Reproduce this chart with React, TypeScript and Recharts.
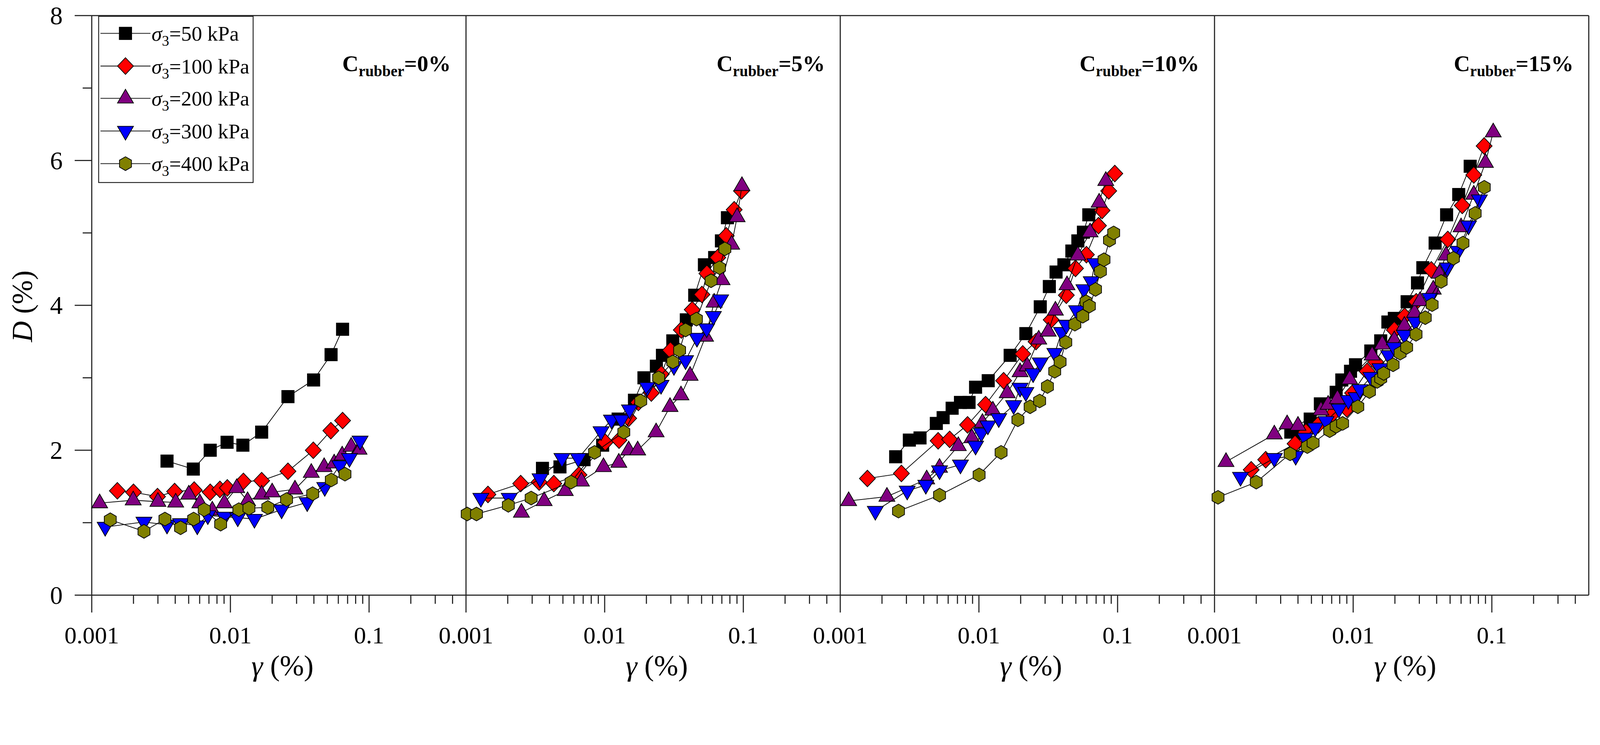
import React from 'react';
import { ScatterChart, Scatter, XAxis, YAxis, ReferenceLine } from 'recharts';

// ---- axes / labels ----
const X_TICKS = [
  0.001, 0.002, 0.003, 0.004, 0.005, 0.006, 0.007, 0.008, 0.009,
  0.01, 0.02, 0.03, 0.04, 0.05, 0.06, 0.07, 0.08, 0.09,
  0.1, 0.2, 0.3, 0.4,
];
const X_MAJOR = [0.001, 0.01, 0.1];
const X_LABELS = ['0.001', '0.01', '0.1'];
const Y_TICKS = [0, 1, 2, 3, 4, 5, 6, 7, 8];
const RUBBER = ['0%', '5%', '10%', '15%'];
const PRESSURES = ['50', '100', '200', '300', '400'];

// ---- data: [gamma (%), D (%)] ----
const C0_S50 = [[0.00349, 1.85], [0.0054, 1.74], [0.00715, 2.0], [0.00946, 2.11], [0.0123, 2.07], [0.0168, 2.25], [0.026, 2.74], [0.0398, 2.97], [0.0532, 3.32], [0.0644, 3.67]];
const C0_S100 = [[0.00153, 1.44], [0.002, 1.42], [0.00298, 1.36], [0.00396, 1.43], [0.00548, 1.45], [0.00715, 1.42], [0.0084, 1.46], [0.0095, 1.48], [0.0124, 1.57], [0.0168, 1.58], [0.026, 1.71], [0.0396, 2.0], [0.053, 2.27], [0.0644, 2.41]];
const C0_S200 = [[0.00114, 1.27], [0.00199, 1.31], [0.003, 1.29], [0.00403, 1.28], [0.00501, 1.39], [0.00602, 1.27], [0.0074, 1.17], [0.00904, 1.27], [0.0111, 1.48], [0.0133, 1.3], [0.0168, 1.39], [0.02, 1.42], [0.0292, 1.46], [0.0383, 1.69], [0.0474, 1.77], [0.056, 1.82], [0.064, 1.93], [0.0743, 2.05], [0.0846, 2.01]];
const C0_S300 = [[0.00125, 0.94], [0.00238, 1.01], [0.00349, 0.97], [0.00437, 0.99], [0.00577, 0.96], [0.00687, 1.1], [0.00905, 1.08], [0.0113, 1.07], [0.0149, 1.05], [0.0234, 1.18], [0.0358, 1.28], [0.0479, 1.49], [0.0615, 1.79], [0.0722, 1.89], [0.0861, 2.13]];
const C0_S400 = [[0.00136, 1.04], [0.00238, 0.88], [0.00337, 1.05], [0.00437, 0.93], [0.00543, 1.05], [0.00647, 1.18], [0.0085, 0.98], [0.0115, 1.18], [0.0136, 1.2], [0.0186, 1.21], [0.0254, 1.32], [0.0392, 1.4], [0.0534, 1.59], [0.067, 1.67]];

const C5_S50 = [[0.00356, 1.75], [0.00476, 1.77], [0.0071, 1.87], [0.00967, 2.07], [0.0125, 2.43], [0.0164, 2.69], [0.0192, 3.0], [0.0236, 3.16], [0.0261, 3.31], [0.031, 3.51], [0.0388, 3.8], [0.0446, 4.14], [0.0524, 4.56], [0.0621, 4.66], [0.0695, 4.89], [0.0768, 5.21]];
const C5_S100 = [[0.00144, 1.39], [0.00248, 1.54], [0.00337, 1.56], [0.0043, 1.54], [0.00653, 1.66], [0.0101, 2.11], [0.0127, 2.14], [0.0149, 2.44], [0.0175, 2.66], [0.0217, 2.79], [0.0256, 3.05], [0.0298, 3.38], [0.0357, 3.66], [0.0428, 3.94], [0.0503, 4.15], [0.0546, 4.44], [0.0654, 4.66], [0.0753, 4.96], [0.0859, 5.32], [0.0969, 5.58]];
const C5_S200 = [[0.00251, 1.14], [0.00366, 1.3], [0.0052, 1.44], [0.0068, 1.57], [0.0098, 1.77], [0.01265, 1.83], [0.0149, 2.0], [0.0173, 2.0], [0.0235, 2.25], [0.0296, 2.6], [0.0355, 2.76], [0.0413, 3.03], [0.0534, 3.57], [0.0616, 4.04], [0.0702, 4.35], [0.0824, 4.84], [0.0902, 5.22], [0.0977, 5.65]];
const C5_S300 = [[0.00128, 1.34], [0.00205, 1.34], [0.00342, 1.61], [0.00492, 1.89], [0.00645, 1.89], [0.00942, 2.26], [0.0112, 2.42], [0.0132, 2.42], [0.0151, 2.56], [0.0203, 2.87], [0.0255, 2.9], [0.0316, 3.16], [0.0383, 3.24], [0.0463, 3.55], [0.0544, 3.68], [0.0608, 3.85], [0.0686, 4.08]];
const C5_S400 = [[0.00102, 1.12], [0.00119, 1.12], [0.00202, 1.24], [0.00295, 1.34], [0.00572, 1.56], [0.00845, 1.97], [0.01374, 2.25], [0.0182, 2.68], [0.0245, 3.0], [0.031, 3.22], [0.0347, 3.38], [0.0383, 3.66], [0.0459, 3.81], [0.0585, 4.34], [0.0673, 4.52], [0.0736, 4.78]];

const C10_S50 = [[0.00251, 1.91], [0.00315, 2.14], [0.00376, 2.17], [0.00493, 2.37], [0.00552, 2.45], [0.00641, 2.58], [0.00736, 2.66], [0.00849, 2.66], [0.00946, 2.87], [0.01167, 2.96], [0.0168, 3.31], [0.0218, 3.61], [0.0277, 3.98], [0.0322, 4.26], [0.036, 4.46], [0.041, 4.56], [0.0468, 4.75], [0.0517, 4.89], [0.0567, 5.01], [0.062, 5.25]];
const C10_S100 = [[0.00157, 1.61], [0.00276, 1.68], [0.00508, 2.13], [0.00615, 2.15], [0.00828, 2.35], [0.01117, 2.63], [0.01507, 2.96], [0.0207, 3.33], [0.0258, 3.5], [0.0332, 3.8], [0.0427, 4.14], [0.0497, 4.51], [0.0596, 4.7], [0.0728, 5.1], [0.0773, 5.31], [0.0863, 5.58], [0.0955, 5.82]];
const C10_S200 = [[0.00115, 1.3], [0.00217, 1.36], [0.0042, 1.6], [0.0052, 1.76], [0.0071, 2.06], [0.0089, 2.17], [0.0106, 2.38], [0.0126, 2.55], [0.016, 2.79], [0.0198, 3.08], [0.0223, 3.16], [0.027, 3.53], [0.0316, 3.64], [0.0356, 3.93], [0.0432, 4.28], [0.0517, 4.69], [0.0633, 5.01], [0.0736, 5.42], [0.0822, 5.72]];
const C10_S300 = [[0.00179, 1.16], [0.00304, 1.44], [0.00414, 1.52], [0.0052, 1.72], [0.00736, 1.8], [0.00946, 2.06], [0.0104, 2.24], [0.0116, 2.34], [0.0139, 2.44], [0.0178, 2.62], [0.0198, 2.86], [0.0218, 2.8], [0.0246, 3.06], [0.0277, 3.21], [0.0353, 3.34], [0.0394, 3.63], [0.0427, 3.73], [0.0507, 3.93], [0.0572, 4.22], [0.0646, 4.33], [0.0686, 4.58]];
const C10_S400 = [[0.00263, 1.16], [0.0052, 1.38], [0.01003, 1.66], [0.01445, 1.97], [0.0191, 2.42], [0.0234, 2.6], [0.0274, 2.68], [0.0312, 2.88], [0.0352, 3.09], [0.0385, 3.22], [0.0423, 3.49], [0.0492, 3.74], [0.0561, 3.85], [0.0592, 4.05], [0.0626, 3.99], [0.0693, 4.22], [0.0752, 4.47], [0.0798, 4.63], [0.0874, 4.9], [0.0937, 5.0]];

const C15_S50 = [[0.00355, 2.25], [0.0041, 2.23], [0.0049, 2.43], [0.0058, 2.64], [0.00754, 2.8], [0.00828, 2.97], [0.00957, 3.09], [0.0104, 3.18], [0.0134, 3.37], [0.0158, 3.51], [0.0178, 3.77], [0.0198, 3.82], [0.0245, 4.05], [0.0291, 4.31], [0.0318, 4.52], [0.039, 4.86], [0.0472, 5.25], [0.0577, 5.53], [0.0698, 5.92]];
const C15_S100 = [[0.00184, 1.73], [0.00234, 1.87], [0.00381, 2.09], [0.00456, 2.25], [0.00559, 2.35], [0.0071, 2.5], [0.009, 2.57], [0.0099, 2.79], [0.0126, 3.09], [0.0145, 3.22], [0.0198, 3.66], [0.0235, 3.85], [0.0285, 4.05], [0.0366, 4.49], [0.0481, 4.91], [0.0612, 5.38], [0.0741, 5.8], [0.088, 6.2]];
const C15_S200 = [[0.00121, 1.84], [0.0027, 2.22], [0.00334, 2.36], [0.004, 2.34], [0.00586, 2.55], [0.0066, 2.63], [0.0077, 2.71], [0.00944, 2.98], [0.0137, 3.31], [0.0162, 3.46], [0.0198, 3.52], [0.0234, 3.72], [0.0277, 3.9], [0.0303, 4.06], [0.0378, 4.22], [0.0418, 4.44], [0.0467, 4.69], [0.06, 5.08], [0.0741, 5.53], [0.0899, 5.97], [0.1023, 6.39]];
const C15_S300 = [[0.00154, 1.63], [0.0027, 1.89], [0.00385, 1.92], [0.0045, 2.17], [0.00533, 2.31], [0.00637, 2.4], [0.0079, 2.57], [0.00923, 2.69], [0.0105, 2.73], [0.0112, 2.84], [0.0134, 3.01], [0.0156, 3.13], [0.018, 3.31], [0.0198, 3.42], [0.0234, 3.59], [0.028, 3.77], [0.0357, 4.1], [0.0478, 4.52], [0.0572, 4.75], [0.0679, 5.1], [0.0813, 5.46]];
const C15_S400 = [[0.00106, 1.35], [0.002, 1.56], [0.00351, 1.95], [0.00467, 2.05], [0.00514, 2.1], [0.00677, 2.27], [0.00754, 2.33], [0.00839, 2.37], [0.0108, 2.6], [0.0131, 2.81], [0.0149, 2.95], [0.0158, 2.99], [0.0166, 3.06], [0.0194, 3.18], [0.0218, 3.34], [0.0243, 3.42], [0.0284, 3.6], [0.0331, 3.83], [0.0371, 4.01], [0.0431, 4.33], [0.0528, 4.65], [0.0619, 4.86], [0.0758, 5.27], [0.0882, 5.63]];

const PANELS = [
  [C0_S50, C0_S100, C0_S200, C0_S300, C0_S400],
  [C5_S50, C5_S100, C5_S200, C5_S300, C5_S400],
  [C10_S50, C10_S100, C10_S200, C10_S300, C10_S400],
  [C15_S50, C15_S100, C15_S200, C15_S300, C15_S400],
];

// ---- look ----
const FONT = '"Liberation Serif", "Times New Roman", serif';
const INK = '#1e1e1e';
const MARKERS = [
  { kind: 'square', fill: '#000000' },
  { kind: 'diamond', fill: '#ff0000' },
  { kind: 'up', fill: '#800080' },
  { kind: 'down', fill: '#0000ff' },
  { kind: 'hex', fill: '#808000' },
];

const W = 4412;
const H = 1906;
const PLOT_TOP = 43;
const PLOT_H = 1597;
const PANEL_W = 1032;
const PANEL_LEFT = [253, 1285, 2317, 3349];
const PAD = 120;

function Marker({ kind, cx, cy, fill }: any) {
  if (cx == null || cy == null) return null;
  const common = { fill, stroke: '#000', strokeWidth: 2 };
  if (kind === 'square') return <rect x={cx - 17} y={cy - 17} width={34} height={34} {...common} />;
  if (kind === 'diamond')
    return <polygon points={`${cx},${cy - 23} ${cx + 22},${cy} ${cx},${cy + 23} ${cx - 22},${cy}`} {...common} />;
  if (kind === 'up')
    return <polygon points={`${cx},${cy - 25} ${cx + 22},${cy + 13} ${cx - 22},${cy + 13}`} {...common} />;
  if (kind === 'down')
    return <polygon points={`${cx - 22},${cy - 13} ${cx + 22},${cy - 13} ${cx},${cy + 25}`} {...common} />;
  const r = 19;
  const h = 16.5;
  return (
    <polygon
      points={`${cx},${cy - r} ${cx + h},${cy - r / 2} ${cx + h},${cy + r / 2} ${cx},${cy + r} ${cx - h},${cy + r / 2} ${cx - h},${cy - r / 2}`}
      {...common}
    />
  );
}

function XTick({ x, y, payload }: any) {
  const i = X_MAJOR.indexOf(payload.value);
  const major = i >= 0;
  return (
    <g>
      <line x1={x} x2={x} y1={y} y2={y + (major ? 48 : 24)} stroke={INK} strokeWidth={3} />
      {major && (
        <text x={x} y={y + 133} textAnchor="middle" fontFamily={FONT} fontSize={67} fill="#000">
          {X_LABELS[i]}
        </text>
      )}
    </g>
  );
}

function YTick({ x, y, payload }: any) {
  const major = payload.value % 2 === 0;
  return (
    <g>
      <line x1={x - (major ? 47 : 25)} x2={x} y1={y} y2={y} stroke={INK} strokeWidth={3} />
      {major && (
        <text x={x - 80} y={y} textAnchor="end" dominantBaseline="central" fontFamily={FONT} fontSize={70} fill="#000">
          {String(payload.value)}
        </text>
      )}
    </g>
  );
}

function Panel({ index }: { index: number }) {
  const first = index === 0;
  const ml = first ? 0 : PAD;
  const yw = first ? PANEL_LEFT[0] : 0;
  const divLeft = PANEL_LEFT[index] - ml - yw;
  const data = PANELS[index];
  return (
    <div style={{ position: 'absolute', left: divLeft, top: 0 }}>
      <ScatterChart
        width={ml + yw + PANEL_W + PAD}
        height={H}
        margin={{ top: PLOT_TOP, right: PAD, bottom: 0, left: ml }}
      >
        <XAxis
          type="number"
          dataKey="x"
          scale="log"
          domain={[0.001, 0.5]}
          ticks={X_TICKS}
          interval={0}
          height={H - PLOT_TOP - PLOT_H}
          tickSize={0}
          tickMargin={0}
          tickLine={false}
          axisLine={{ stroke: INK, strokeWidth: 3 }}
          tick={<XTick />}
        />
        <YAxis
          type="number"
          dataKey="y"
          domain={[0, 8]}
          ticks={Y_TICKS}
          interval={0}
          hide={!first}
          width={yw}
          tickSize={0}
          tickMargin={0}
          tickLine={false}
          axisLine={{ stroke: INK, strokeWidth: 3 }}
          tick={<YTick />}
        />
        <ReferenceLine y={8} stroke={INK} strokeWidth={3} />
        {!first && <ReferenceLine x={0.001} stroke={INK} strokeWidth={3} />}
        {index === 3 && <ReferenceLine x={0.5} stroke={INK} strokeWidth={3} />}
        {data.map((pts, s) => (
          <Scatter
            key={s}
            data={pts.map(([g, d]) => ({ x: g, y: d }))}
            fill={MARKERS[s].fill}
            line={{ stroke: '#000', strokeWidth: 2 }}
            lineType="joint"
            isAnimationActive={false}
            shape={(p: any) => <Marker kind={MARKERS[s].kind} fill={MARKERS[s].fill} cx={p.cx} cy={p.cy} />}
          />
        ))}
      </ScatterChart>
    </div>
  );
}

function Overlay() {
  const rows = [92, 182, 271, 361, 451];
  return (
    <svg width={W} height={H} style={{ position: 'absolute', left: 0, top: 0, pointerEvents: 'none' }}>
      {/* legend */}
      <rect x={272} y={45} width={426} height={458} fill="#fff" stroke={INK} strokeWidth={2.5} />
      {rows.map((ry, i) => (
        <g key={i}>
          <line x1={277} x2={415} y1={ry} y2={ry} stroke="#333" strokeWidth={2.5} />
          <Marker kind={MARKERS[i].kind} fill={MARKERS[i].fill} cx={346} cy={ry} />
          <text x={418} y={ry + 20} fontFamily={FONT} fontSize={58} fill="#000">
            <tspan fontStyle="italic">σ</tspan>
            <tspan fontSize={40} dy={14}>3</tspan>
            <tspan dy={-14}>={PRESSURES[i]} kPa</tspan>
          </text>
        </g>
      ))}
      {/* panel titles */}
      {RUBBER.map((r, i) => (
        <text
          key={r}
          x={PANEL_LEFT[i] + PANEL_W - 42}
          y={196}
          textAnchor="end"
          fontFamily={FONT}
          fontWeight="bold"
          fontSize={62}
          fill="#000"
        >
          <tspan>C</tspan>
          <tspan fontSize={42} dy={14}>rubber</tspan>
          <tspan dy={-14}>={r}</tspan>
        </text>
      ))}
      {/* x titles */}
      {PANEL_LEFT.map((l, i) => (
        <text key={i} x={l + PANEL_W / 2 + 10} y={1861} textAnchor="middle" fontFamily={FONT} fontSize={80} fill="#000">
          <tspan fontStyle="italic">γ</tspan>
          <tspan> (%)</tspan>
        </text>
      ))}
      {/* y title */}
      <text transform="translate(88,844) rotate(-90)" textAnchor="middle" fontFamily={FONT} fontSize={80} fill="#000">
        <tspan fontStyle="italic">D</tspan>
        <tspan> (%)</tspan>
      </text>
    </svg>
  );
}

export default function App() {
  // the photographed window may hold fewer CSS pixels than 4412 x 1906; fit the figure to it
  const vw = typeof window !== 'undefined' ? window.innerWidth : W;
  const vh = typeof window !== 'undefined' ? window.innerHeight : H;
  const s = Math.min(vw / W, vh / H, 1);
  return (
    <div
      style={{
        position: 'absolute',
        left: 0,
        top: 0,
        width: W,
        height: H,
        background: '#fff',
        transform: `scale(${s})`,
        transformOrigin: '0 0',
      }}
    >
      {PANEL_LEFT.map((_, i) => (
        <Panel key={i} index={i} />
      ))}
      <Overlay />
    </div>
  );
}
